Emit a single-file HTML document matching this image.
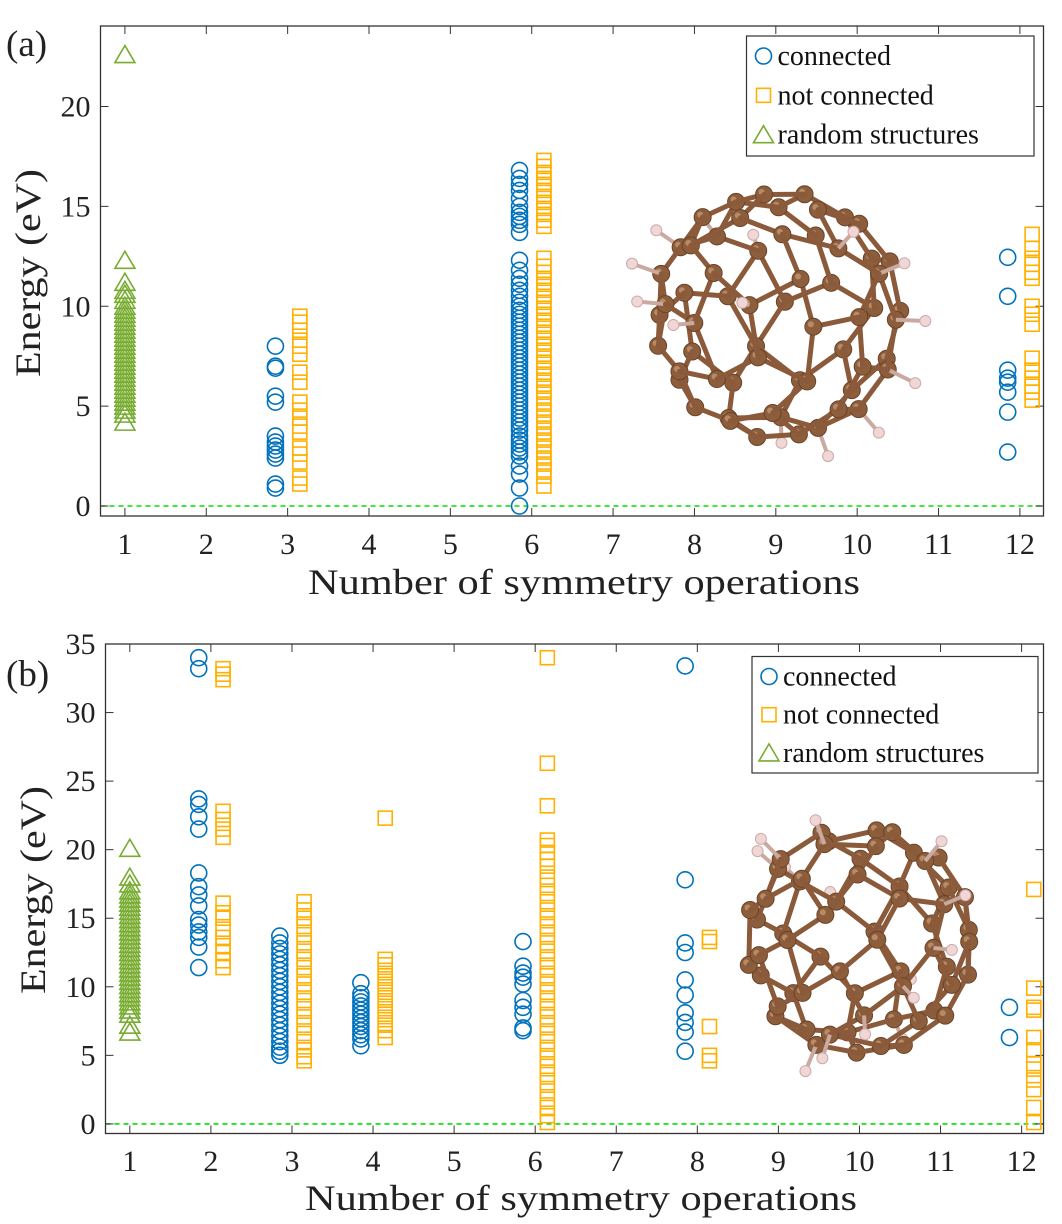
<!DOCTYPE html>
<html><head><meta charset="utf-8">
<style>
html,body{margin:0;padding:0;background:#fff;}
svg{display:block;font-family:"Liberation Serif",serif;}
</style></head>
<body>
<svg id="fig" width="1062" height="1224" viewBox="0 0 1062 1224" xmlns="http://www.w3.org/2000/svg"></svg>
<script>
// ---------- Panel (a) data ----------
const aTicksX = [1,2,3,4,5,6,7,8,9,10,11,12];
const aTicksXLabels = ["1","2","3","4","5","6","7","8","9","10","11","12"];
const aTicksY = [0,5,10,15,20];
const aConnX = 2.85;
const aConn3 = [8.0,7.0,6.9,5.5,5.2,3.5,3.2,3.0,2.8,2.6,2.4,1.1,0.9];
const aNotX = 3.15;
const aNot3 = [9.5,9.2,8.8,8.3,8.0,7.6,6.7,6.2,5.2,4.8,4.4,4.0,3.7,2.9,2.6,2.2,1.4,1.1];
const aConn6 = [0,0.9,1.6,2.0,2.5,2.7,2.9,3.1,3.3,3.5,3.8,4.0,4.2,4.4,4.6,4.8,5.0,5.2,5.4,5.6,5.8,6.0,6.2,6.4,6.6,6.8,7.0,7.2,7.4,7.6,7.8,8.0,8.2,8.4,8.6,8.8,9.0,9.2,9.4,9.6,9.8,10.0,10.2,10.5,10.8,11.1,11.4,11.8,12.3,13.7,14.1,14.3,14.5,14.7,15.0,15.4,15.8,16.1,16.4,16.8];
const aNot6 = [1.0,1.5,1.8,2.1,2.4,2.7,3.0,3.3,3.6,3.9,4.2,4.5,4.8,5.1,5.4,5.7,6.0,6.3,6.6,6.9,7.2,7.5,7.8,8.1,8.4,8.7,9.0,9.3,9.6,9.9,10.2,10.5,10.8,11.1,11.4,11.7,12.0,12.4,14.0,14.3,14.6,14.9,15.2,15.5,15.8,16.1,16.4,16.7,17.0,17.3];
const aConn12 = [12.45,10.5,6.8,6.4,6.2,5.7,4.7,2.7];
const aNot12 = [13.6,12.9,12.4,12.1,11.7,11.4,10.0,9.6,9.1,7.4,6.8,6.4,6.0,5.7,5.3];
const aRand1 = [22.6,12.3,11.2,10.8,10.6,10.3,10.0,9.8,9.6,9.4,9.2,9.0,8.8,8.6,8.4,8.2,8.0,7.8,7.6,7.4,7.2,7.0,6.8,6.6,6.4,6.2,6.0,5.8,5.6,5.4,5.2,5.0,4.8,4.6,4.2];

// ---------- Panel (b) data ----------
const bTicksX = [1,2,3,4,5,6,7,8,9,10,11,12];
const bTicksXLabels = ["1","2","3","4","5","6","7","8","9","10","11","12"];
const bTicksY = [0,5,10,15,20,25,30,35];
const bRand1 = [20.1,18.0,17.5,17.0,16.7,16.4,16.1,15.8,15.5,15.2,14.9,14.6,14.3,14.0,13.7,13.4,13.1,12.8,12.5,12.2,11.9,11.6,11.3,11.0,10.7,10.4,10.1,9.8,9.5,9.2,8.9,8.6,8.3,8.0,7.2,6.7];
const bConn2 = [34.0,33.2,23.7,23.3,22.4,21.5,18.3,17.3,16.7,15.9,14.9,14.5,14.0,13.6,12.9,11.4];
const bNot2 = [33.2,32.8,32.4,22.8,22.2,21.5,20.9,16.1,15.4,15.0,14.2,13.6,13.0,12.5,11.9,11.4];
const bConn3 = [13.7,13.2,12.8,12.4,12.0,11.6,11.2,10.8,10.4,10.0,9.6,9.2,8.8,8.4,8.0,7.6,7.2,6.8,6.4,6.0,5.6,5.3,5.0];
const bNot3 = [16.2,15.6,15.0,14.4,13.8,13.2,12.6,12.0,11.4,10.8,10.2,9.6,9.0,8.4,7.8,7.2,6.6,6.0,5.4,4.9,4.6];
const bConn4 = [10.3,9.5,9.2,8.9,8.6,8.3,8.0,7.7,7.4,7.1,6.8,6.5,6.2,5.7];
const bNot4 = [22.3,12.0,11.6,11.2,10.8,10.4,10.0,9.6,9.2,8.8,8.4,8.0,7.6,7.2,6.8,6.3];
const bConn6 = [13.3,11.5,11.0,10.7,10.2,9.0,8.5,8.0,7.0,6.8];
const bNot6 = [34.0,26.3,23.2,20.7,20.3,19.8,19.3,18.8,18.0,17.4,16.8,16.2,15.6,15.0,14.4,13.8,13.2,12.6,12.0,11.4,10.8,10.2,9.6,9.0,8.4,7.8,7.2,6.6,6.0,5.4,4.8,4.2,3.6,3.0,2.4,1.8,1.2,0.6,0.1];
const bConn8 = [33.4,17.8,13.2,12.5,10.5,9.4,8.1,7.4,6.7,5.3];
const bNot8 = [13.6,13.3,7.1,5.0,4.6];
const bConn12 = [8.5,6.3];
const bNot12 = [17.1,9.9,8.5,8.3,6.3,5.4,4.4,4.0,3.2,2.5,1.2,0.1];

const NS = "http://www.w3.org/2000/svg";
const svg = document.getElementById('fig');
function el(tag, attrs, parent){ const e=document.createElementNS(NS,tag); for(const k in attrs) e.setAttribute(k,attrs[k]); (parent||svg).appendChild(e); return e; }

const BLUE="#0072BD", ORANGE="#FFB000", GREEN="#77AC30";

function makeAxes(cfg){
  const g = el('g',{});
  
  
  const sx = v => cfg.left + (v - cfg.xmin)/(cfg.xmax-cfg.xmin)*(cfg.right-cfg.left);
  const sy = v => cfg.bottom - (v - cfg.ymin)/(cfg.ymax-cfg.ymin)*(cfg.bottom-cfg.top);
  return {g,sx,sy,cfg};
}

function drawFrame(ax, ticksX, ticksXLabels, ticksY){
  const {g,sx,sy,cfg}=ax;
  const zl = el('line',{x1:cfg.left,x2:cfg.right,y1:sy(0),y2:sy(0),stroke:"#00e000","stroke-width":1.6,"stroke-dasharray":"5,4"},g);
  
  
  ticksX.forEach((t,i)=>{
    const x=sx(t);
    el('line',{x1:x,x2:x,y1:cfg.bottom,y2:cfg.bottom-8,stroke:"#333","stroke-width":1},g);
    el('line',{x1:x,x2:x,y1:cfg.top,y2:cfg.top+8,stroke:"#333","stroke-width":1},g);
    const tx = el('text',{x:x,y:cfg.tickY,"font-size":30,"text-anchor":"middle",fill:"#222"},g);
    tx.textContent = ticksXLabels[i];
    
    
  });
  ticksY.forEach(t=>{
    const y=sy(t);
    el('line',{x1:cfg.left,x2:cfg.left+8,y1:y,y2:y,stroke:"#333","stroke-width":1},g);
    el('line',{x1:cfg.right,x2:cfg.right-8,y1:y,y2:y,stroke:"#333","stroke-width":1},g);
    const ty = el('text',{x:cfg.left-10,y:y+10,"font-size":30,"text-anchor":"end",fill:"#222"},g);
    ty.textContent = String(t);
    
    
  });
  const fr = el('rect',{x:cfg.left,y:cfg.top,width:cfg.right-cfg.left,height:cfg.bottom-cfg.top,fill:"none",stroke:"#333","stroke-width":1.3},g);
  
  
}

function circles(ax, xv, arr){
  arr.forEach(v=>{
    const c = el('circle',{cx:ax.sx(xv),cy:ax.sy(v),r:8,fill:"none",stroke:BLUE,"stroke-width":1.6},ax.g);
    
    
  });
}
function squares(ax, xv, arr){
  arr.forEach(v=>{
    const s = el('rect',{x:ax.sx(xv)-7,y:ax.sy(v)-7,width:14,height:14,fill:"none",stroke:ORANGE,"stroke-width":1.6},ax.g);
    
    
  });
}
function triangles(ax, xv, arr){
  arr.forEach(v=>{
    const x=ax.sx(xv), y=ax.sy(v);
    const p = el('polygon',{points:`${x},${y-9} ${x+10},${y+8} ${x-10},${y+8}`,fill:"none",stroke:GREEN,"stroke-width":1.6},ax.g);
    
    
  });
}

function legend(ax, x, y, w, h){
  const g = el('g',{},ax.g);
  
  
  el('rect',{x:x,y:y,width:w,height:h,fill:"#fff",stroke:"#333","stroke-width":1.2},g);
  const rows=[["connected","c"],["not connected","s"],["random structures","t"]];
  rows.forEach((r,i)=>{
    const cy = y + 20 + i*h/3.05;
    const mx = x+17;
    if(r[1]=="c") el('circle',{cx:mx,cy:cy,r:8,fill:"none",stroke:BLUE,"stroke-width":1.6},g);
    if(r[1]=="s") el('rect',{x:mx-7,y:cy-7,width:14,height:14,fill:"none",stroke:ORANGE,"stroke-width":1.6},g);
    if(r[1]=="t") el('polygon',{points:`${mx},${cy-9} ${mx+10},${cy+8} ${mx-10},${cy+8}`,fill:"none",stroke:GREEN,"stroke-width":1.6},g);
    const t = el('text',{x:x+31,y:cy+9,"font-size":28,fill:"#111"},g);
    t.textContent=r[0];
    
    
  });
}

function molecule(cx, cy, R, rot, seed){
  const g = el('g',{});
  
  
  const N=60, pts=[];
  const ga = Math.PI*(3-Math.sqrt(5));
  for(let i=0;i<N;i++){
    const z = 1 - 2*(i+0.5)/N, r=Math.sqrt(1-z*z), th=i*ga+seed;
    let x=r*Math.cos(th), y=r*Math.sin(th), zz=z;
    const c=Math.cos(rot), s=Math.sin(rot);
    const y2=y*c - zz*s, z2=y*s + zz*c;
    pts.push([x,y2,z2]);
  }
  const bonds=[];
  for(let i=0;i<N;i++){
    const d=[];
    for(let j=0;j<N;j++) if(j!==i){const dx=pts[i][0]-pts[j][0],dy=pts[i][1]-pts[j][1],dz=pts[i][2]-pts[j][2];d.push([dx*dx+dy*dy+dz*dz,j]);}
    d.sort((a,b)=>a[0]-b[0]);
    for(let k=0;k<3;k++){const j=d[k][1]; if(i<j) bonds.push([i,j]);}
  }
  const P = p=>[cx+p[0]*R, cy+p[1]*R];
  const items=[];
  bonds.forEach(b=>items.push({z:(pts[b[0]][2]+pts[b[1]][2])/2-0.02,t:'b',b}));
  pts.forEach((p,i)=>items.push({z:p[2],t:'a',i}));
  const hs=[];
  pts.forEach((p,i)=>{ if(i%4===1){ hs.push([p[0]*1.25,p[1]*1.25,p[2]*1.25,i]); } });
  hs.forEach(h=>items.push({z:h[2]-0.01,t:'h',h}));
  items.sort((a,b)=>a.z-b.z);
  items.forEach(it=>{
    if(it.t==='b'){
      const a=P(pts[it.b[0]]), b=P(pts[it.b[1]]);
      el('line',{x1:a[0],y1:a[1],x2:b[0],y2:b[1],stroke:"#8a5a3a","stroke-width":5,"stroke-linecap":"round"},g);
    } else if(it.t==='a'){
      const a=P(pts[it.i]);
      el('circle',{cx:a[0],cy:a[1],r:8.5,fill:"#8c5e3c",stroke:"#6b4329","stroke-width":1},g);
      el('circle',{cx:a[0]-2.5,cy:a[1]-2.5,r:3,fill:"#b98a66"},g);
    } else {
      const h=it.h, a=P(pts[h[3]]), b=P(h);
      el('line',{x1:a[0],y1:a[1],x2:b[0],y2:b[1],stroke:"#c9a9a0","stroke-width":4},g);
      el('circle',{cx:b[0],cy:b[1],r:5.5,fill:"#f1d6d6",stroke:"#caa","stroke-width":1},g);
    }
  });
}

// ---- Panel (a) ----
const A = makeAxes({name:'panel-a-axes',left:100.5,right:1043.5,top:26,bottom:516,xmin:0.7,xmax:12.29,ymin:-0.5,ymax:24.03,tickY:554});
drawFrame(A, aTicksX, aTicksXLabels, aTicksY);
triangles(A, 1, aRand1);
circles(A, aConnX, aConn3);
squares(A, aNotX, aNot3);
circles(A, 6-0.15, aConn6);
squares(A, 6+0.15, aNot6);
circles(A, 12-0.15, aConn12);
squares(A, 12+0.15, aNot12);
molecule(778, 315, 124, 0.3, 0.0);
legend(A, 746.5, 36, 287.5, 120);

// ---- Panel (b) ----
const B = makeAxes({name:'panel-b-axes',left:105.5,right:1043.5,top:644,bottom:1133.5,xmin:0.7,xmax:12.27,ymin:-0.7,ymax:35,tickY:1171});
drawFrame(B, bTicksX, bTicksXLabels, bTicksY);
triangles(B, 1, bRand1);
circles(B, 2-0.15, bConn2); squares(B, 2+0.15, bNot2);
circles(B, 3-0.15, bConn3); squares(B, 3+0.15, bNot3);
circles(B, 4-0.15, bConn4); squares(B, 4+0.15, bNot4);
circles(B, 6-0.15, bConn6); squares(B, 6+0.15, bNot6);
circles(B, 8-0.15, bConn8); squares(B, 8+0.15, bNot8);
circles(B, 12-0.15, bConn12); squares(B, 12+0.15, bNot12);
molecule(860, 940, 114, 1.1, 0.7);
legend(B, 752, 656.5, 286, 116.5);

// ---- labels ----
function txt(str, attrs, name){
  const t=el('text',attrs); t.textContent=str;
  
  
  return t;
}
txt("(a)",{x:6,y:56,"font-size":37,fill:"#222"},'panel-a-label');
txt("(b)",{x:6,y:686,"font-size":37,fill:"#222"},'panel-b-label');
txt("Number of symmetry operations",{x:308,y:594,"font-size":36,fill:"#222",textLength:552,lengthAdjust:"spacingAndGlyphs"},'panel-a-x-axis-title');
txt("Number of symmetry operations",{x:305,y:1210,"font-size":36,fill:"#222",textLength:552,lengthAdjust:"spacingAndGlyphs"},'panel-b-x-axis-title');
txt("Energy (eV)",{x:0,y:0,"font-size":36,fill:"#222","text-anchor":"middle",transform:"translate(40,273) rotate(-90)",textLength:208,lengthAdjust:"spacingAndGlyphs"},'panel-a-y-axis-title');
txt("Energy (eV)",{x:0,y:0,"font-size":36,fill:"#222","text-anchor":"middle",transform:"translate(45,890) rotate(-90)",textLength:208,lengthAdjust:"spacingAndGlyphs"},'panel-b-y-axis-title');
</script>
</body></html>
